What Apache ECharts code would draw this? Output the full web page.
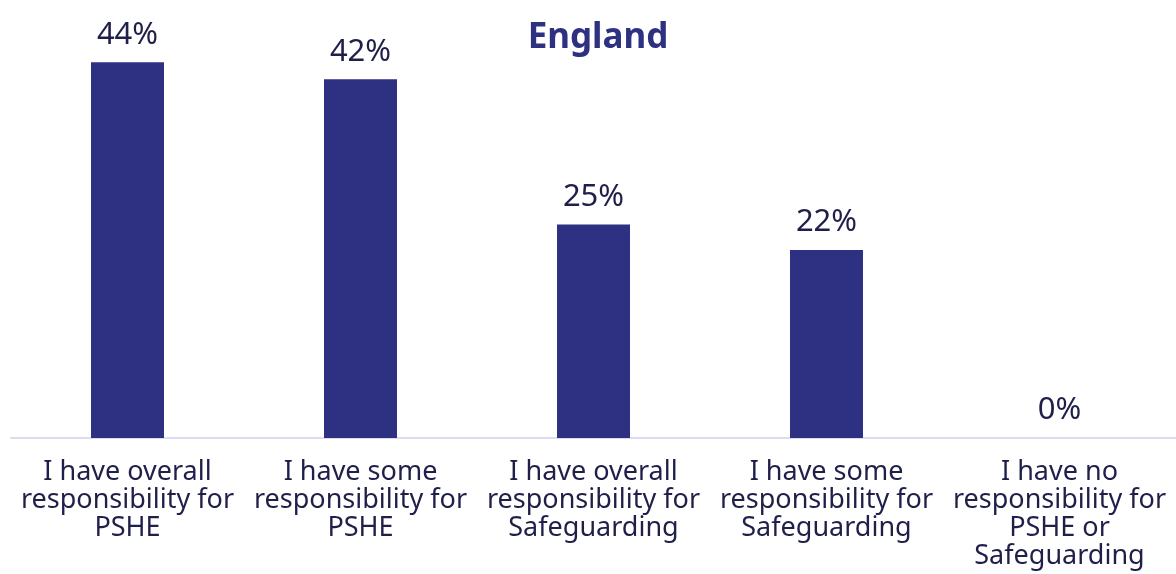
<!DOCTYPE html>
<html>
<head>
<meta charset="utf-8">
<script src="https://cdn.jsdelivr.net/npm/echarts@6/dist/echarts.min.js"></script>
<style>
  html, body { margin: 0; padding: 0; background: #ffffff; }
  #chart { width: 1176px; height: 574px; }
</style>
</head>
<body>
<div id="chart"></div>
<script>
// Responsibility categories (line breaks as shown under each bar)
const categories = [
  'I have overall\nresponsibility for\nPSHE',
  'I have some\nresponsibility for\nPSHE',
  'I have overall\nresponsibility for\nSafeguarding',
  'I have some\nresponsibility for\nSafeguarding',
  'I have no\nresponsibility for\nPSHE or\nSafeguarding'
];
// Share of respondents, percent
const values = [44, 42, 25, 22, 0];
const titleText = 'England';

const FONT = '"Noto Sans", sans-serif';
const chart = echarts.init(document.getElementById('chart'));
chart.setOption({
  animation: false,
  title: {
    text: titleText,
    left: 593,
    top: 16,
    textAlign: 'center',
    textStyle: { fontFamily: FONT, fontSize: 35, fontWeight: 'bold', color: '#2e3082' }
  },
  grid: { left: 11, right: 0, top: 11, bottom: 136 },
  xAxis: {
    type: 'category',
    data: categories,
    axisLine: { lineStyle: { color: '#dcdcf0', width: 2 } },
    axisTick: { show: false },
    axisLabel: {
      interval: 0,
      margin: 20,
      fontFamily: FONT,
      fontSize: 27,
      lineHeight: 28,
      color: '#1f1f4a',
      align: 'center'
    }
  },
  yAxis: {
    type: 'value',
    min: 0,
    max: 50,
    show: false,
    splitLine: { show: false }
  },
  series: [{
    type: 'bar',
    data: values,
    barWidth: 73,
    itemStyle: { color: '#2e3082' },
    label: {
      show: true,
      position: 'top',
      distance: 12,
      formatter: '{c}%',
      fontFamily: FONT,
      fontSize: 31,
      color: '#1f1f4a'
    }
  }]
});
</script>
</body>
</html>
